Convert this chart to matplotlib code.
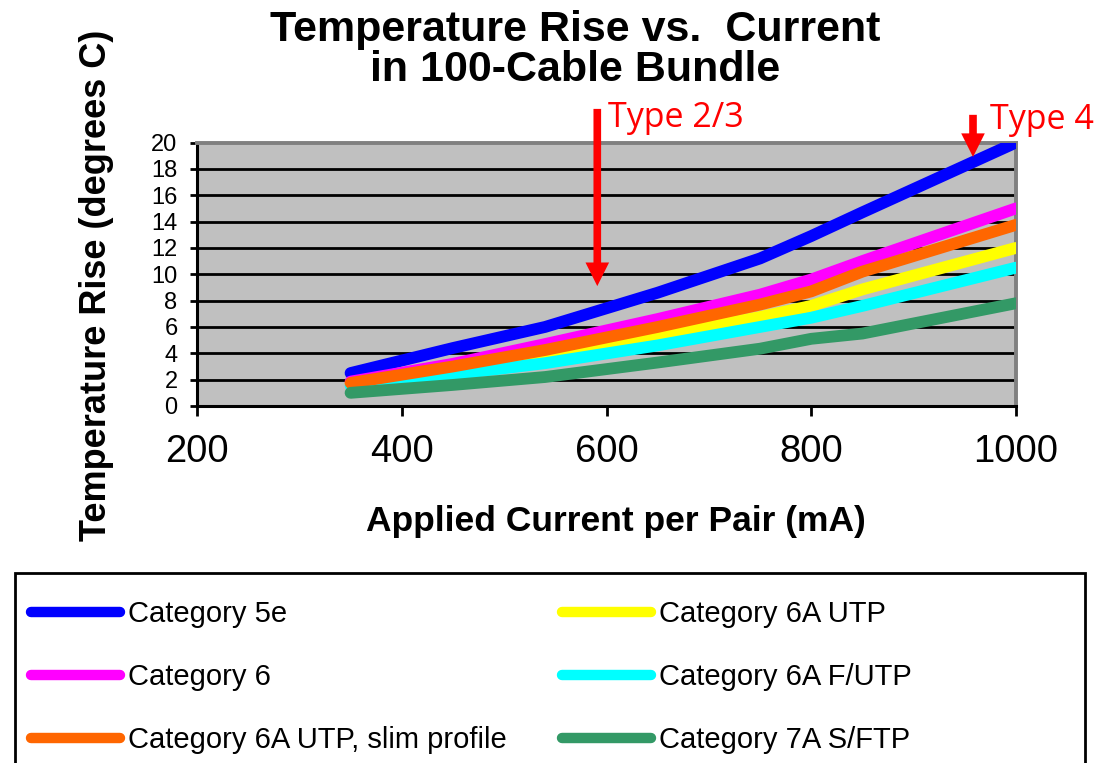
import numpy as np
import matplotlib
matplotlib.use('Agg')
import matplotlib.pyplot as plt
from matplotlib.patches import Rectangle

plt.rcParams['font.family'] = ['Liberation Sans', 'DejaVu Sans']

# data
current = [350, 450, 540, 650, 750, 800, 850, 1000]
cat5e = [2.5, 4.4, 6.0, 8.6, 11.2, 12.9, 14.7, 20.0]
cat6a_utp = [1.7, 2.8, 3.85, 5.35, 6.75, 7.6, 8.85, 12.0]
cat6 = [1.85, 3.2, 4.7, 6.6, 8.45, 9.6, 11.0, 15.0]
cat6a_futp = [1.55, 2.4, 3.25, 4.6, 6.0, 6.7, 7.6, 10.5]
cat6a_slim = [1.75, 3.0, 4.25, 6.0, 7.7, 8.7, 10.2, 13.75]
cat7a = [1.0, 1.6, 2.2, 3.3, 4.35, 5.1, 5.5, 7.8]

series = [
    ('Category 5e', cat5e, '#0000FF'),
    ('Category 6A UTP', cat6a_utp, '#FFFF00'),
    ('Category 6', cat6, '#FF00FF'),
    ('Category 6A F/UTP', cat6a_futp, '#00FFFF'),
    ('Category 6A UTP, slim profile', cat6a_slim, '#FF6600'),
    ('Category 7A S/FTP', cat7a, '#339966'),
]

W, H = 1097, 763
fig = plt.figure(figsize=(W / 100, H / 100), dpi=100)
ax = fig.add_axes([197 / W, 1 - 406 / H, 819 / W, 263.5 / H])
ax.set_facecolor('#C0C0C0')

# horizontal gridlines
for yv in range(2, 20, 2):
    ax.axhline(yv, color='black', lw=2.0, zorder=1)

lines = {}
for name, vals, col in series:
    ln, = ax.plot(current, vals, color=col, lw=8.5, label=name,
                  solid_capstyle='round', solid_joinstyle='round', zorder=3)
    lines[name] = ln

ax.set_xlim(200, 1000)
ax.set_ylim(0, 20)
ax.set_xticks([200, 400, 600, 800, 1000])
ax.set_yticks(range(0, 21, 2))
ax.tick_params(axis='y', direction='out', length=5, width=2, labelsize=17, pad=9)
ax.tick_params(axis='x', direction='out', length=7, width=2, labelsize=27.5, pad=13)

for s in ['left', 'bottom']:
    ax.spines[s].set_color('black')
    ax.spines[s].set_linewidth(2.2)
for s in ['top', 'right']:
    ax.spines[s].set_color('#808080')
    ax.spines[s].set_linewidth(2.8)

# title and axis labels
fig.text(575 / W, 1 - 50 / H, 'Temperature Rise vs.  Current\nin 100-Cable Bundle',
         ha='center', va='center', fontsize=31, fontweight='bold', linespacing=1.0)
fig.text(616 / W, 1 - 522 / H, 'Applied Current per Pair (mA)',
         ha='center', va='center', fontsize=25.5, fontweight='bold')
fig.text(97 / W, 1 - 285 / H, 'Temperature Rise (degrees C)',
         ha='center', va='center', fontsize=26, fontweight='bold', rotation=90)

# red arrows with notes
arrow_kw = dict(facecolor='#FF0000', edgecolor='none', width=5.5, headwidth=17,
                headlength=17, shrink=0)
ax.annotate('', xy=(591, 9.1), xytext=(591, 22.55), arrowprops=arrow_kw,
            annotation_clip=False)
ax.annotate('', xy=(958, 18.9), xytext=(958, 22.1), arrowprops=arrow_kw,
            annotation_clip=False)
fig.text(608 / W, 1 - 127 / H, 'Type 2/3', color='#FF0000', fontsize=24.5,
         family='Open Sans', va='baseline')
fig.text(990 / W, 1 - 129 / H, 'Type 4', color='#FF0000', fontsize=24.5,
         family='Open Sans', va='baseline')

# legend: two columns, framed box running off the bottom
left_names = ['Category 5e', 'Category 6', 'Category 6A UTP, slim profile']
right_names = ['Category 6A UTP', 'Category 6A F/UTP', 'Category 7A S/FTP']
leg_kw = dict(loc='upper left', frameon=False, fontsize=21, borderpad=0,
              borderaxespad=0, handlelength=3.05, handletextpad=0.28,
              labelspacing=1.2)
leg1 = fig.legend([lines[n] for n in left_names], left_names,
                  bbox_to_anchor=(31 / W, 1 - 600 / H), **leg_kw)
leg2 = fig.legend([lines[n] for n in right_names], right_names,
                  bbox_to_anchor=(562 / W, 1 - 600 / H), **leg_kw)
for leg in (leg1, leg2):
    for h in leg.legend_handles:
        h.set_linewidth(7.5)
        h.set_solid_capstyle('round')

fig.patches.append(Rectangle((15 / W, -0.05), 1070 / W, (763 - 573) / H + 0.05,
                             transform=fig.transFigure, fill=False,
                             edgecolor='black', lw=2))

fig.savefig('out.png', dpi=100)
